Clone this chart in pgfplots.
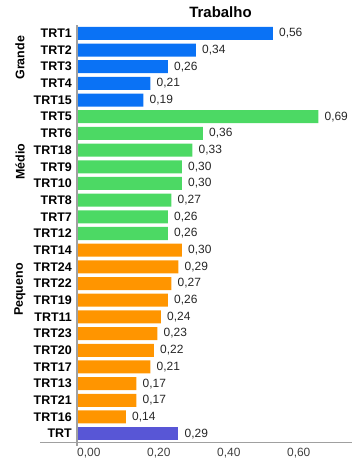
\documentclass[border=0pt]{standalone}
\usepackage{fontspec}
\setmainfont{Liberation Sans}
\usepackage{pgfplots}
\pgfplotsset{compat=1.18}
\definecolor{cblue}{HTML}{0A72F5}
\definecolor{cgreen}{HTML}{4CD964}
\definecolor{corange}{HTML}{FF9500}
\definecolor{cpurple}{HTML}{5856D6}
\definecolor{axgray}{HTML}{A0A0A0}
\begin{document}
\begin{tikzpicture}
\begin{axis}[
  scale only axis,
  width=275bp, height=417bp,
  xbar, bar width=0.78, bar shift=0pt,
  y dir=reverse,
  xmin=0, xmax=0.786,
  ymin=-0.5, ymax=24.5,
  axis line style={draw=none},
  tick style={draw=none},
  xtick={0,0.2,0.4,0.6},
  ytick={0,...,24},
  yticklabels={TRT1,TRT2,TRT3,TRT4,TRT15,TRT5,TRT6,TRT18,TRT9,TRT10,TRT8,TRT7,TRT12,TRT14,TRT24,TRT22,TRT19,TRT11,TRT23,TRT20,TRT17,TRT13,TRT21,TRT16,TRT},
  major tick length=0pt,
  /pgf/number format/.cd, fixed, fixed zerofill, precision=2, use comma, assume math mode=true,
  /pgfplots/.cd,
  yticklabel style={font=\fontsize{12.5}{14}\selectfont\bfseries, inner sep=0pt, anchor=east, xshift=-5bp},
  xticklabel style={font=\fontsize{12}{14}\selectfont, text=black!75, anchor=north west, inner sep=0pt, yshift=-6bp},
  nodes near coords,
  every node near coord/.append style={font=\fontsize{12}{14}\selectfont, text=black!85, anchor=west, inner sep=0pt, xshift=6bp},
  title={Trabalho},
  title style={font=\fontsize{15}{17}\selectfont\bfseries, at={(rel axis cs:0.5,1)}, anchor=base, yshift=2bp, xshift=6bp},
  clip=false,
]
\addplot[fill=cblue, draw=none] coordinates {(0.56,0) (0.34,1) (0.26,2) (0.21,3) (0.19,4)};
\addplot[fill=cgreen, draw=none] coordinates {(0.69,5) (0.36,6) (0.33,7) (0.30,8) (0.30,9) (0.27,10) (0.26,11) (0.26,12)};
\addplot[fill=corange, draw=none] coordinates {(0.30,13) (0.29,14) (0.27,15) (0.26,16) (0.24,17) (0.23,18) (0.22,19) (0.21,20) (0.17,21) (0.17,22) (0.14,23)};
\addplot[fill=cpurple, draw=none] coordinates {(0.29,24)};
\draw[axgray, line width=2bp] (rel axis cs:0,1) -- ([yshift=-4bp]rel axis cs:0,0);
\draw[axgray, line width=1bp] ([xshift=-37bp]rel axis cs:0,0) -- (rel axis cs:1,0);
\node[rotate=90, font=\fontsize{12.5}{14}\selectfont\bfseries] at ([xshift=-57bp]axis cs:0,1.47) {Grande};
\node[rotate=90, font=\fontsize{12.5}{14}\selectfont\bfseries] at ([xshift=-57bp]axis cs:0,7.7) {Médio};
\node[rotate=90, font=\fontsize{12.5}{14}\selectfont\bfseries] at ([xshift=-57bp]axis cs:0,15.36) {Pequeno};
\end{axis}
\pgfresetboundingbox
\path ([shift={(-77bp,-20bp)}]current axis.south west) rectangle ([shift={(7bp,25bp)}]current axis.north east);
\end{tikzpicture}
\end{document}
